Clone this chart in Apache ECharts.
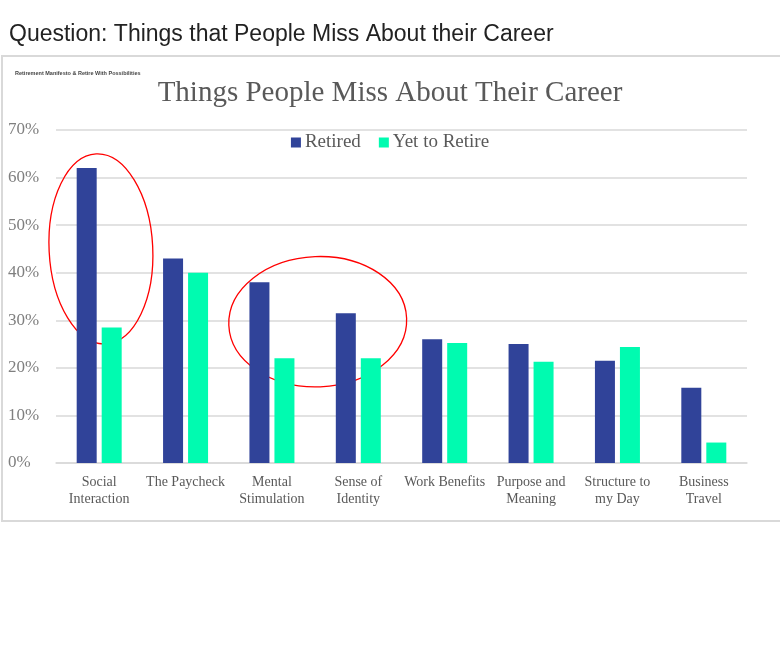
<!DOCTYPE html>
<html lang="en">
<head>
    <meta charset="UTF-8">
    <title>Things People Miss About Their Career</title>
    <script src="https://cdn.jsdelivr.net/npm/echarts@6.0.0/dist/echarts.min.js"></script>
    <style>
        html, body { margin: 0; padding: 0; background: #fff; }
    </style>
</head>
<body>
    <div id="main" style="width: 780px;height:648px;"></div>
    <script type="text/javascript">
        // values (percent)
        const categories = ['Social\nInteraction', 'The Paycheck', 'Mental\nStimulation', 'Sense of\nIdentity',
            'Work Benefits', 'Purpose and\nMeaning', 'Structure to\nmy Day', 'Business\nTravel'];
        const retired = [62, 43, 38, 31.5, 26, 25, 21.5, 15.8];
        const yetToRetire = [28.5, 40, 22, 22, 25.2, 21.3, 24.4, 4.3];
        const yTicks = [0, 10, 20, 30, 40, 50, 60, 70];

        const serif = '"Liberation Serif", "DejaVu Serif", serif';

        let myChart = echarts.init(document.getElementById('main'));

        let options = {
            backgroundColor: '#fff',
            title: [
                {
                    text: 'Question: Things that People Miss About their Career',
                    left: 4, top: 18,
                    textStyle: { fontFamily: '"Liberation Sans", Arial, sans-serif', fontSize: 23, fontWeight: 'normal', color: '#222' }
                },
                {
                    text: 'Things People Miss About Their Career',
                    left: 'center', top: 74,
                    textStyle: { fontFamily: serif, fontSize: 29, fontWeight: 'normal', color: '#595959' }
                },
                {
                    text: 'Retirement Manifesto & Retire With Possibilities',
                    left: 10, top: 65,
                    textStyle: { fontFamily: '"Liberation Sans", sans-serif', fontSize: 5.5, fontWeight: 'bold', color: '#444' }
                }
            ],
            legend: {
                top: 128, left: 'center',
                icon: 'rect',
                itemWidth: 10, itemHeight: 10, itemGap: 18,
                textStyle: { fontFamily: serif, fontSize: 19, color: '#595959', padding: [0, 0, 0, -1] },
                data: ['Retired', 'Yet to Retire']
            },
            grid: { left: 56, right: 33, top: 130, bottom: 185 },
            xAxis: {
                type: 'category',
                data: categories,
                axisLine: { lineStyle: { color: '#d9d9d9', width: 1.5 } },
                axisTick: { show: false },
                axisLabel: { fontFamily: serif, fontSize: 14, color: '#595959', lineHeight: 17, margin: 11, interval: 0 }
            },
            yAxis: {
                type: 'value',
                min: yTicks[0], max: yTicks[yTicks.length - 1], interval: 10,
                axisLine: { show: false },
                axisTick: { show: false },
                splitLine: { lineStyle: { color: '#d9d9d9', width: 1.5 } },
                axisLabel: {
                    fontFamily: serif, fontSize: 17, color: '#7f7f7f',
                    align: 'left', margin: 48,
                    formatter: v => v + '%'
                }
            },
            series: [
                {
                    name: 'Retired', type: 'bar', data: retired,
                    barWidth: 20, barGap: '25%',
                    itemStyle: { color: '#304399' }
                },
                {
                    name: 'Yet to Retire', type: 'bar', data: yetToRetire,
                    barWidth: 20,
                    itemStyle: { color: '#00FBB0' }
                }
            ]
        };
        myChart.setOption(options);

        // border box and red hand-drawn ellipses placed through the axes
        const px = (cat, val) => {
            const i = Math.floor(cat), f = cat - i;
            const a = myChart.convertToPixel({ gridIndex: 0 }, [i, val]);
            const b = myChart.convertToPixel({ gridIndex: 0 }, [i + 1, val]);
            return [a[0] + (b[0] - a[0]) * f, a[1]];
        };
        const c1 = px(0.02, 45), c2 = px(2.53, 29.7);
        const step = px(1, 0)[0] - px(0, 0)[0];
        const tenPct = px(0, 0)[1] - px(0, 10)[1];

        myChart.setOption({
            graphic: [
                {
                    type: 'rect', silent: true,
                    shape: { x: 2, y: 56, width: 800, height: 465 },
                    style: { fill: 'none', stroke: '#d9d9d9', lineWidth: 2 }
                },
                {
                    type: 'ellipse', silent: true,
                    x: c1[0], y: c1[1], rotation: 0.05,
                    shape: { cx: 0, cy: 0, rx: step * 0.6, ry: tenPct * 2.0 },
                    style: { fill: 'none', stroke: '#ff0000', lineWidth: 1.3 }
                },
                {
                    type: 'ellipse', silent: true,
                    x: c2[0], y: c2[1], rotation: 0.04,
                    shape: { cx: 0, cy: 0, rx: step * 1.03, ry: tenPct * 1.37 },
                    style: { fill: 'none', stroke: '#ff0000', lineWidth: 1.3 }
                }
            ]
        });
    </script>
</body>
</html>
